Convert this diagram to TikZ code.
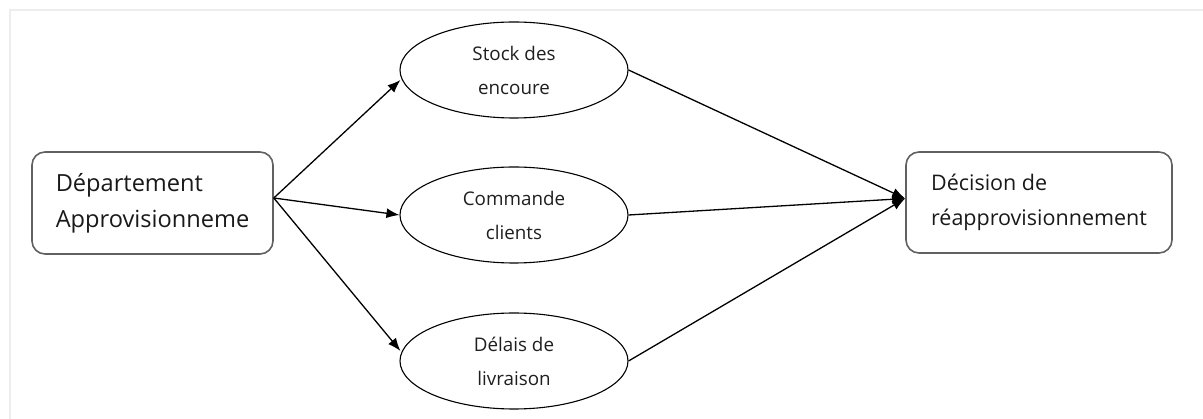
\documentclass[tikz,border=0pt]{standalone}
\usepackage{fontspec}
\setmainfont{Open Sans}
\usetikzlibrary{shapes.geometric,arrows.meta,calc}
\begin{document}
\begin{tikzpicture}[x=1pt,y=-1pt,
  frame/.style={draw=black!7,line width=1.5pt},
  roundbox/.style={draw=black!62,line width=1.6pt,rounded corners=13pt,
    inner sep=0pt,align=left,text=black!90},
  oval/.style={ellipse,draw=black,line width=1.1pt,minimum width=228pt,
    minimum height=96pt,inner sep=0pt,align=center,text=black!88,
    font=\fontsize{18.8}{34}\selectfont},
  flow/.style={draw=black,line width=1.3pt,-{Latex[length=13pt,width=10pt]}}]
\useasboundingbox (0,0) rectangle (1203,419);
% faint page frame along the top and left edges
\draw[frame] (10,419) -- (10,10) -- (1203,10);

% source and target boxes
\node[roundbox,minimum width=241pt,minimum height=102pt,
  font=\fontsize{23.6}{36}\selectfont] (dep) at (152.5,203)
  {Département\\Approvisionneme};
\node[roundbox,minimum width=266pt,minimum height=101pt,
  font=\fontsize{21.5}{35}\selectfont] (dec) at (1039,202.5)
  {Décision de\\réapprovisionnement};

% intermediate factors
\node[oval] (st) at (514,70) {Stock des\\encoure};
\node[oval] (co) at (514,215) {Commande\\clients};
\node[oval] (dl) at (514,361) {Délais de\\livraison};

% connector end points
\coordinate (src) at ($(dep.east)+(0,-5)$);
\coordinate (tgt) at ($(dec.west)+(0,-4)$);

% fan-out from the department
\draw[flow] (src) -- ($(st.west)+(1,10)$);
\draw[flow] (src) -- (co.west);
\draw[flow] (src) -- ($(dl.west)+(1,-10)$);

% convergence on the decision
\draw[flow] (st.east) -- (tgt);
\draw[flow] (co.east) -- (tgt);
\draw[flow] (dl.east) -- (tgt);
\end{tikzpicture}
\end{document}
